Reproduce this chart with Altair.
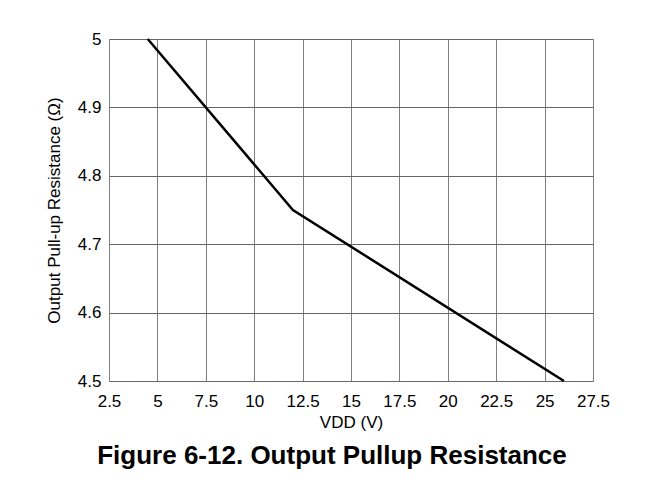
import altair as alt
import pandas as pd

vdd = [4.5, 12.0, 26.0]
resistance = [5.0, 4.75, 4.5]

x_ticks = [2.5, 5, 7.5, 10, 12.5, 15, 17.5, 20, 22.5, 25, 27.5]
y_ticks = [4.5, 4.6, 4.7, 4.8, 4.9, 5.0]

df = pd.DataFrame({"vdd": vdd, "r": resistance})

FONT = "Liberation Sans"

chart = alt.Chart(df).mark_line(color="black", strokeWidth=2.5).encode(
    x=alt.X("vdd:Q", scale=alt.Scale(domain=[2.5, 27.5], nice=False, zero=False),
            axis=alt.Axis(values=x_ticks, labelExpr="'' + datum.value", title="VDD (V)",
                          grid=True, gridColor="#808080", gridWidth=1,
                          domain=False, ticks=False, labelPadding=12, labelFlush=False,
                          labelFontSize=17, titleFontSize=17, titleFontWeight="normal",
                          labelFont=FONT, titleFont=FONT, labelColor="black", titleColor="black",
                          titlePadding=5)),
    y=alt.Y("r:Q", scale=alt.Scale(domain=[4.5, 5.0], nice=False, zero=False),
            axis=alt.Axis(values=y_ticks, labelExpr="'' + datum.value", title="Output Pull-up Resistance (Ω)",
                          grid=True, gridColor="#666666", gridWidth=1,
                          domain=False, ticks=False, labelPadding=8, labelFlush=False,
                          labelFontSize=17, titleFontSize=17, titleFontWeight="normal",
                          labelFont=FONT, titleFont=FONT, labelColor="black", titleColor="black",
                          titlePadding=14)),
).properties(
    width=484,
    height=342,
    autosize=alt.AutoSizeParams(type="none"),
    padding={"left": 101, "top": 31, "right": 62, "bottom": 91},
    title=alt.TitleParams(
        text="Figure 6-12. Output Pullup Resistance",
        orient="bottom", anchor="middle", frame="group", dx=-19, offset=13,
        font=FONT, fontSize=26, fontWeight="bold", color="black",
    ),
).configure_view(stroke="black", strokeWidth=2).configure(background="white")

chart.save("out.html", embed_options={"renderer": "svg", "actions": False})
